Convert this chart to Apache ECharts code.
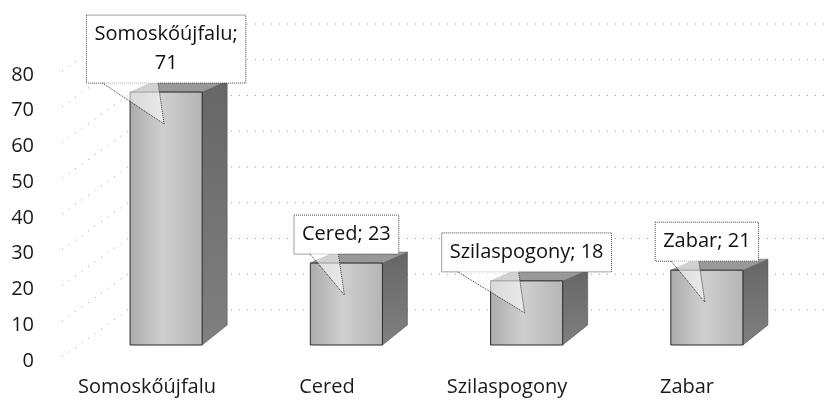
<!DOCTYPE html>
<html>
<head>
<meta charset="utf-8">
<script src="https://cdn.jsdelivr.net/npm/echarts@6/dist/echarts.min.js"></script>
<style>
  html, body { margin: 0; padding: 0; background: #fff; }
  #chart { width: 831px; height: 401px; }
</style>
</head>
<body>
<div id="chart"></div>
<script>
// data
const categories = ['Somoskőújfalu', 'Cered', 'Szilaspogony', 'Zabar'];
const values = [71, 23, 18, 21];
const wrapLabel = [true, false, false, false];
const yTicks = [0, 10, 20, 30, 40, 50, 60, 70, 80];

const FONT = '"Open Sans", "Noto Sans", sans-serif';
const measureCtx = document.createElement('canvas').getContext('2d');
measureCtx.font = '20px ' + FONT;

const barData = values.map((v, i) => [i, v]);
const tickData = yTicks.map(t => [0, t]);

// dotted walls: diagonal side wall + horizontal back wall
function renderWall(params, api) {
  const cs = params.coordSys;
  const y = api.coord([0, api.value(1)])[1];
  const x0 = cs.x + 5;
  const x1 = cs.x + 71;
  return {
    type: 'polyline',
    shape: { points: [[x0, y - 4], [x1, y - 51], [831, y - 51]] },
    style: { stroke: '#999', lineWidth: 1, lineDash: [1, 7], fill: null }
  };
}

function renderBar(params, api) {
  const i = api.value(0);
  const v = api.value(1);
  const top = api.coord([i, v]);
  const base = api.coord([i, 0]);
  const w = api.size([1, 0])[0] * 0.4;
  const cx = top[0];
  const x0 = cx - w / 2, x1 = cx + w / 2;
  const yt = top[1], yb = base[1];
  const dx = 25, dyTop = -11, dyBot = -20;

  const frontFill = new echarts.graphic.LinearGradient(0, 0, 1, 0, [
    { offset: 0, color: '#ababab' },
    { offset: 0.45, color: '#cfcfcf' },
    { offset: 1, color: '#b5b5b5' }
  ]);
  const sideFill = new echarts.graphic.LinearGradient(0, 0, 0, 1, [
    { offset: 0, color: '#666' },
    { offset: 1, color: '#808080' }
  ]);

  // callout
  const text = categories[i] + ';' + (wrapLabel[i] ? '\n' : ' ') + v;
  const lines = text.split('\n');
  const tw = Math.max(...lines.map(l => measureCtx.measureText(l).width));
  const bw = tw + 16;
  const bh = lines.length * 29 + 10;
  const boxBottom = yt - 9;
  const bl = cx - bw / 2 + 16;
  const br = cx - 8;
  const tip = [cx - 2, boxBottom + 41];

  return {
    type: 'group',
    children: [
      {
        type: 'polygon',
        shape: { points: [[x1, yt], [x1 + dx, yt + dyTop], [x1 + dx, yb + dyBot], [x1, yb]] },
        style: { fill: sideFill, stroke: '#444', lineWidth: 0.5 }
      },
      {
        type: 'polygon',
        shape: { points: [[x0, yt], [x0 + dx, yt + dyTop], [x1 + dx, yt + dyTop], [x1, yt]] },
        style: { fill: '#999', stroke: '#666', lineWidth: 0.5 }
      },
      {
        type: 'rect',
        shape: { x: x0, y: yt, width: w, height: yb - yt },
        style: { fill: frontFill, stroke: '#2a2a2a', lineWidth: 1 }
      },
      {
        type: 'rect',
        shape: { x: cx - bw / 2, y: boxBottom - bh, width: bw, height: bh },
        style: { fill: '#fff', stroke: '#444', lineWidth: 1, lineDash: [1, 1] }
      },
      {
        type: 'polygon',
        shape: { points: [[bl, boxBottom - 1], tip, [br, boxBottom - 1]] },
        style: { fill: 'rgba(255,255,255,0.55)' }
      },
      {
        type: 'polyline',
        shape: { points: [[bl, boxBottom], tip, [br, boxBottom]] },
        style: { stroke: '#333', lineWidth: 1, lineDash: [1, 1], fill: null }
      },
      {
        type: 'text',
        x: cx,
        y: boxBottom - bh / 2,
        style: {
          text: text,
          font: '20px ' + FONT,
          fill: '#111',
          align: 'center',
          verticalAlign: 'middle',
          lineHeight: 29
        }
      }
    ]
  };
}

const chart = echarts.init(document.getElementById('chart'));
chart.setOption({
  animation: false,
  backgroundColor: '#fff',
  grid: [
    { left: 57, right: 54, top: 75, bottom: 40 },   // labels + walls
    { left: 76, right: 34, top: 60, bottom: 56 }    // boxes
  ],
  xAxis: [
    {
      gridIndex: 0,
      type: 'category',
      data: categories,
      axisLine: { show: false },
      axisTick: { show: false },
      axisLabel: { margin: 16, fontSize: 20, fontFamily: FONT, color: '#1a1a1a' }
    },
    {
      gridIndex: 1,
      type: 'category',
      data: categories,
      show: false
    }
  ],
  yAxis: [
    {
      gridIndex: 0,
      type: 'value',
      min: 0,
      max: 80,
      interval: 10,
      axisLine: { show: false },
      axisTick: { show: false },
      splitLine: { show: false },
      axisLabel: { margin: 23, fontSize: 20, fontFamily: FONT, color: '#1a1a1a' }
    },
    {
      gridIndex: 1,
      type: 'value',
      min: 0,
      max: 80,
      show: false,
      splitLine: { show: false }
    }
  ],
  series: [
    {
      type: 'custom',
      xAxisIndex: 0,
      yAxisIndex: 0,
      z: 1,
      silent: true,
      renderItem: renderWall,
      data: tickData
    },
    {
      type: 'custom',
      xAxisIndex: 1,
      yAxisIndex: 1,
      z: 2,
      renderItem: renderBar,
      data: barData
    }
  ]
});
</script>
</body>
</html>
